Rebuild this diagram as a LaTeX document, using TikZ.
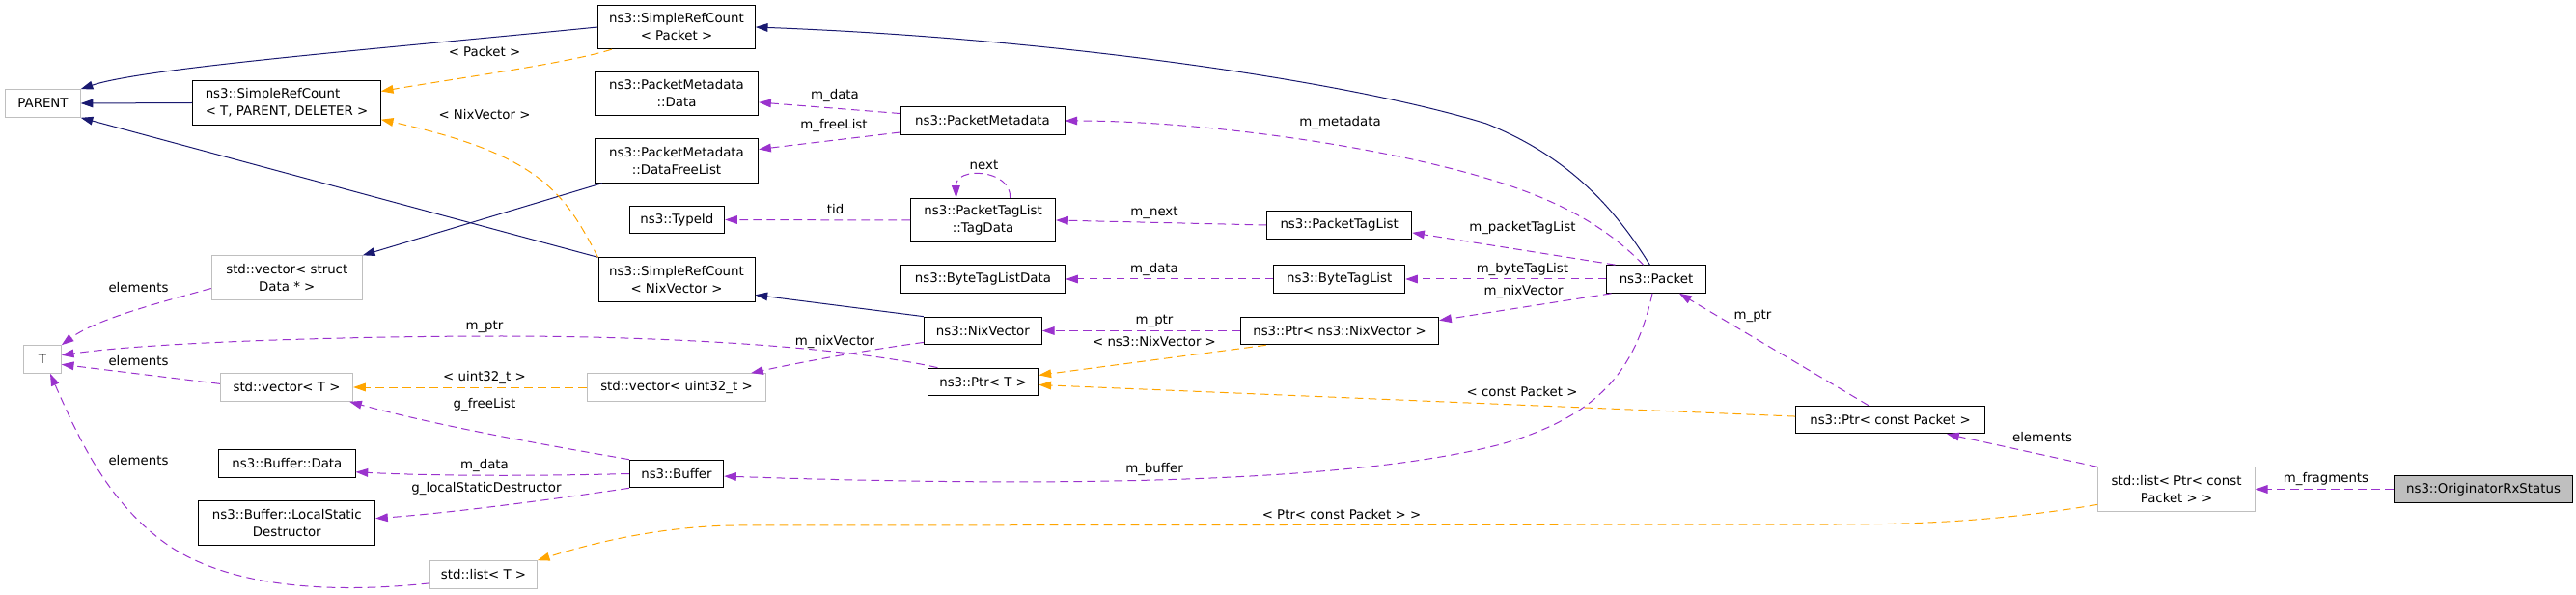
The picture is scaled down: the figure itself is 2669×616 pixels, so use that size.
\documentclass[tikz,border=0pt]{standalone}
\usepackage{fontspec}
\setmainfont{DejaVu Sans}
\usetikzlibrary{arrows.meta}
\usepackage{xcolor}
\definecolor{inhblue}{HTML}{191970}
\definecolor{tplorange}{HTML}{FFA500}
\definecolor{usepurple}{HTML}{9A32CD}
\definecolor{grey75}{HTML}{BFBFBF}

\begin{document}
\begin{tikzpicture}[x=0.75pt,y=-0.75pt,
  font=\fontsize{10}{13.5}\selectfont,
  cls/.style={draw=black,line width=0.75pt,inner sep=0pt,align=center,minimum height=21.5pt},
  cls2/.style={cls,minimum height=34pt},
  ext/.style={cls,draw=grey75},
  ext2/.style={cls2,draw=grey75},
  lbl/.style={inner sep=0pt,text height=7.5pt,text depth=2pt},
  tip/.style={-{Triangle[length=9.5pt,width=6.5pt]}},
  inh/.style={tip,color=inhblue,line width=0.75pt},
  tpl/.style={tip,color=tplorange,line width=0.75pt,dash pattern=on 6.5pt off 4pt},
  usage/.style={tip,color=usepurple,line width=0.75pt,dash pattern=on 6.5pt off 4pt}]

  \fill[white] (0,0) rectangle (2669,616);
  \useasboundingbox (0,0) rectangle (2669,616);

  % column 1
  \draw (44.5,107) node (parent) [ext,minimum width=58pt] {PARENT};
  \draw (44,372) node (T) [ext,minimum width=29pt] {T};

  % column 2
  \draw (297,106.5) node (srcT) [cls2,align=left,minimum width=146pt] {ns3::SimpleRefCount\\< T, PARENT, DELETER >};
  \draw (297.3,287.5) node (vecData) [ext2,minimum width=117pt] {std::vector< struct\\Data * >};
  \draw (297,401) node (vecT) [ext,minimum width=103pt] {std::vector< T >};
  \draw (297.4,480) node (bufData) [cls,minimum width=106pt] {ns3::Buffer::Data};
  \draw (297.3,541.5) node (bufLsd) [cls2,minimum width=137pt] {ns3::Buffer::LocalStatic\\Destructor};
  \draw (501,595) node (listT) [ext,minimum width=83pt] {std::list< T >};

  % column 3
  \draw (701,28) node (srcPacket) [cls2,minimum width=122pt] {ns3::SimpleRefCount\\< Packet >};
  \draw (701,97) node (pmData) [cls2,minimum width=127pt] {ns3::PacketMetadata\\::Data};
  \draw (701,166.5) node (pmFree) [cls2,minimum width=127pt] {ns3::PacketMetadata\\::DataFreeList};
  \draw (701.4,227.5) node (typeId) [cls,minimum width=74pt] {ns3::TypeId};
  \draw (701,289.5) node (srcNix) [cls2,minimum width=121.5pt] {ns3::SimpleRefCount\\< NixVector >};
  \draw (701,401) node (vecU) [ext,minimum width=139pt] {std::vector< uint32\_t >};
  \draw (701,490.5) node (buffer) [cls,minimum width=73pt] {ns3::Buffer};

  % column 4
  \draw (1018,125) node (pm) [cls,minimum width=127.5pt] {ns3::PacketMetadata};
  \draw (1018.6,228) node (tagData) [cls2,minimum width=112.5pt] {ns3::PacketTagList\\::TagData};
  \draw (1018.4,289) node (btlData) [cls,minimum width=128pt] {ns3::ByteTagListData};
  \draw (1018.4,342.5) node (nix) [cls,minimum width=91.5pt] {ns3::NixVector};
  \draw (1018.6,395.5) node (ptrT) [cls,minimum width=86pt] {ns3::Ptr< T >};

  % column 5
  \draw (1387.7,233) node (ptl) [cls,minimum width=112.5pt] {ns3::PacketTagList};
  \draw (1387.7,289) node (btl) [cls,minimum width=102pt] {ns3::ByteTagList};
  \draw (1388,342.5) node (ptrNix) [cls,minimum width=154pt] {ns3::Ptr< ns3::NixVector >};

  % right part
  \draw (1716,289) node (packet) [cls,minimum width=77pt] {ns3::Packet};
  \draw (1958.5,434.5) node (ptrPkt) [cls,minimum width=147pt] {ns3::Ptr< const Packet >};
  \draw (2255,506.5) node (listPtr) [ext2,minimum width=122pt] {std::list< Ptr< const\\Packet > >};
  \draw (2573,506.5) node (orig) [cls,fill=grey75,minimum width=139pt] {ns3::OriginatorRxStatus};

  % inheritance
  \draw[inh] (srcPacket.west) .. controls (400,50) and (150,70) .. (parent.north east);
  \draw[inh] (srcT.west) -- (parent.east);
  \draw[inh] (srcNix.north west) -- (parent.south east);
  \draw[inh] ([xshift=-5pt]packet.north) .. controls (1670,210) and (1620,160) .. (1540,128)
    .. controls (1400,85) and (1100,40) .. (srcPacket.east);
  \draw[inh] ([xshift=6pt]pmFree.south west) -- (vecData.north east);
  \draw[inh] (nix.north west) -- (srcNix.-11);

  % template instances
  \draw[tpl] ([xshift=11pt]srcPacket.south west) .. controls (590,65) and (480,80) .. (srcT.7);
  \draw[tpl] (srcNix.north west) .. controls (585,200) and (560,160) .. (srcT.-10);
  \draw[tpl] (vecU.west) -- (vecT.east);
  \draw[tpl] (listPtr.191) .. controls (2080,538) and (2000,543) .. (1900,543) -- (760,544)
    .. controls (690,545) and (620,560) .. (listT.north east);
  \draw[tpl] (ptrNix.191) -- (ptrT.7);
  \draw[tpl] (ptrPkt.178) -- (ptrT.-3);

  % usage
  \draw[usage] (vecData.188) .. controls (170,312) and (100,330) .. (T.north east);
  \draw[usage] ([xshift=8pt]ptrT.north west) .. controls (880,360) and (700,348) .. (520,348)
    .. controls (350,348) and (150,355) .. (T.12);
  \draw[usage] (vecT.177) -- (T.-15);
  \draw[usage] (listT.189) .. controls (370,612) and (250,615) .. (175,565)
    .. controls (110,520) and (80,450) .. ([xshift=6pt]T.south);
  \draw[usage] (buffer.west) .. controls (560,493) and (450,493) .. (bufData.-7);
  \draw[usage] (buffer.south west) .. controls (600,513) and (480,530) .. (bufLsd.3);
  \draw[usage] (buffer.north west) .. controls (560,460) and (450,440) .. ([xshift=-3pt]vecT.south east);
  \draw[usage] (nix.191) .. controls (900,362) and (830,375) .. ([xshift=-12pt]vecU.north east);
  \draw[usage] (pm.175) -- (pmData.-6);
  \draw[usage] (pm.188) -- (pmFree.8);
  \draw[usage] (tagData.west) -- (typeId.east);
  \draw[usage] ([xshift=21pt]tagData.north) .. controls (1048,175) and (990,172) .. ([xshift=-21pt]tagData.north);
  \draw[usage] (ptl.west) -- (tagData.east);
  \draw[usage] (btl.west) -- (btlData.east);
  \draw[usage] (ptrNix.west) -- (nix.east);
  \draw[usage] ([xshift=-10pt]packet.north) .. controls (1650,220) and (1580,190) .. (1454,163)
    .. controls (1330,137) and (1200,125) .. (pm.east);
  \draw[usage] ([xshift=7pt]packet.north west) -- (ptl.-6);
  \draw[usage] (packet.west) -- (btl.east);
  \draw[usage] ([xshift=4pt]packet.south west) -- (ptrNix.6);
  \draw[usage] ([xshift=-3pt]packet.south) .. controls (1695,380) and (1660,430) .. (1555,460)
    .. controls (1400,500) and (1100,505) .. (buffer.-3);
  \draw[usage] ([xshift=-17pt]ptrPkt.north) -- ([xshift=18pt]packet.south);
  \draw[usage] (listPtr.north west) -- ([xshift=44pt]ptrPkt.south);
  \draw[usage] (orig.west) -- (listPtr.east);

  % edge labels
  \draw (502,55) node (lPacket) [lbl] {< Packet >};
  \draw (502,120) node (lNixVector) [lbl] {< NixVector >};
  \draw (502,391) node (lUint) [lbl] {< uint32\_t >};
  \draw (1390,534) node (lPtrPacket) [lbl] {< Ptr< const Packet > >};
  \draw (1196,355) node (lNsNix) [lbl] {< ns3::NixVector >};
  \draw (1577,407) node (lConstPacket) [lbl] {< const Packet >};
  \draw (143.5,299) node (lElemData) [lbl] {elements};
  \draw (502,338) node (lPtrT) [lbl] {m\_ptr};
  \draw (143.5,375) node (lElemVec) [lbl] {elements};
  \draw (143.5,478) node (lElemList) [lbl] {elements};
  \draw (502,482) node (lBufData) [lbl] {m\_data};
  \draw (504,506) node (lLsd) [lbl] {g\_localStaticDestructor};
  \draw (502,419) node (lFree) [lbl] {g\_freeList};
  \draw (865,354) node (lNixVec) [lbl] {m\_nixVector};
  \draw (865,99) node (lPmData) [lbl] {m\_data};
  \draw (864,130) node (lPmFree) [lbl] {m\_freeList};
  \draw (865.6,218) node (lTid) [lbl] {tid};
  \draw (1019.5,172) node (lNext) [lbl] {next};
  \draw (1196,220) node (lMNext) [lbl] {m\_next};
  \draw (1196,279) node (lBtlData) [lbl] {m\_data};
  \draw (1196,332) node (lPtrNix) [lbl] {m\_ptr};
  \draw (1388.6,127) node (lMeta) [lbl] {m\_metadata};
  \draw (1577.4,236) node (lPtl) [lbl] {m\_packetTagList};
  \draw (1577.4,279) node (lBtl) [lbl] {m\_byteTagList};
  \draw (1578.6,302) node (lPktNix) [lbl] {m\_nixVector};
  \draw (1196,486) node (lBuffer) [lbl] {m\_buffer};
  \draw (1816,327) node (lPtrPkt) [lbl] {m\_ptr};
  \draw (2116,454) node (lElemPkt) [lbl] {elements};
  \draw (2410,496) node (lFrag) [lbl] {m\_fragments};

\end{tikzpicture}
\end{document}
